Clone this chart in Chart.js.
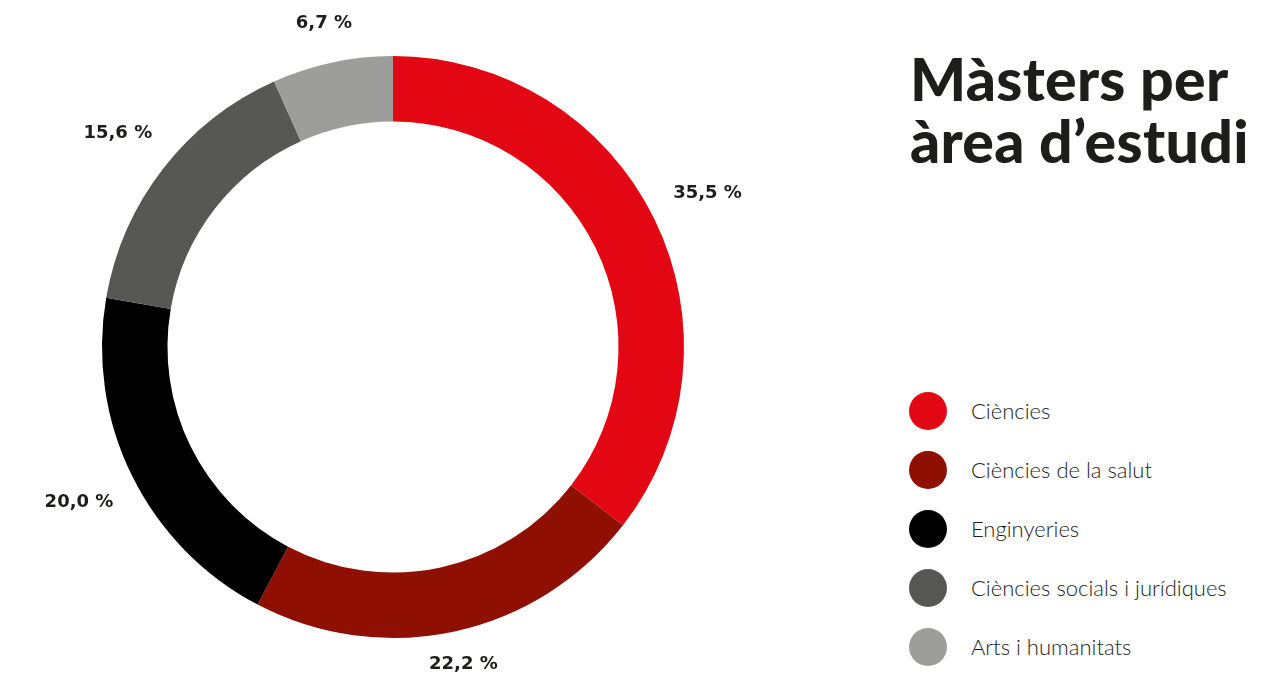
<!DOCTYPE html>
<html>
<head>
<meta charset="utf-8">
<script src="https://cdn.jsdelivr.net/npm/chart.js@4"></script>
<style>
  html, body { margin: 0; padding: 0; background: #fff; }
  body { width: 1262px; height: 674px; position: relative; overflow: hidden; }
  #chartBox { position: absolute; left: 0; top: 0; width: 800px; height: 674px; }
  #title {
    position: absolute; left: 910px; top: 48px; margin: 0;
    font-family: "Lato", sans-serif; font-weight: 900; font-size: 59px;
    line-height: 62px; color: #1d1d1b; letter-spacing: 0.3px; white-space: nowrap;
  }
  #legend { position: absolute; left: 909px; top: 381px; list-style: none; margin: 0; padding: 0; }
  #legend li { display: flex; align-items: center; height: 59px; }
  #legend .dot { width: 38px; height: 38px; border-radius: 50%; margin-right: 24px; }
  #legend .txt { font-family: "Lato", sans-serif; font-weight: 300; font-size: 22px; color: #1d1d1b; }
</style>
</head>
<body>
<div id="chartBox"><canvas id="donut"></canvas></div>
<h1 id="title">Màsters per<br>àrea d’estudi</h1>
<ul id="legend"></ul>
<script>
const areas = ["Ciències", "Ciències de la salut", "Enginyeries", "Ciències socials i jurídiques", "Arts i humanitats"];
const shares = [35.5, 22.2, 20.0, 15.6, 6.7];
const colors = ["#e30613", "#8f1002", "#000000", "#575756", "#9d9d9c"];

// legend built from the same arrays
const legend = document.getElementById("legend");
legend.innerHTML = areas.map((a, i) =>
  `<li><span class="dot" style="background:${colors[i]}"></span><span class="txt">${a}</span></li>`
).join("");

const fmt = v => v.toFixed(1).replace(".", ",") + " %";

// percentages outside each arc
const outsideLabels = {
  id: "outsideLabels",
  afterDatasetsDraw(chart) {
    const ctx = chart.ctx;
    const meta = chart.getDatasetMeta(0);
    ctx.save();
    ctx.font = "bold 18px 'DejaVu Sans', sans-serif";
    ctx.fillStyle = "#1d1d1b";
    ctx.textAlign = "center";
    ctx.textBaseline = "middle";
    meta.data.forEach((arc, i) => {
      const p = arc.getProps(["x", "y", "startAngle", "endAngle", "outerRadius"], true);
      const mid = (p.startAngle + p.endAngle) / 2;
      const txt = fmt(shares[i]);
      const w = ctx.measureText(txt).width;
      const c = Math.cos(mid), s = Math.sin(mid);
      const d = p.outerRadius + 24 + (w / 2) * Math.abs(c) + 10 * Math.abs(s);
      let x = p.x + d * c;
      let y = p.y + d * s;
      y = Math.min(Math.max(y, 12), chart.height - 10);
      ctx.fillText(txt, x, y);
    });
    ctx.restore();
  }
};

new Chart(document.getElementById("donut"), {
  type: "doughnut",
  data: {
    labels: areas,
    datasets: [{ data: shares, backgroundColor: colors, borderWidth: 0, hoverOffset: 0 }]
  },
  options: {
    responsive: true,
    maintainAspectRatio: false,
    animation: false,
    cutout: "77.5%",
    layout: { padding: { left: 102, right: 116, top: 56, bottom: 36 } },
    plugins: { legend: { display: false }, tooltip: { enabled: false } }
  },
  plugins: [outsideLabels]
});
</script>
</body>
</html>
